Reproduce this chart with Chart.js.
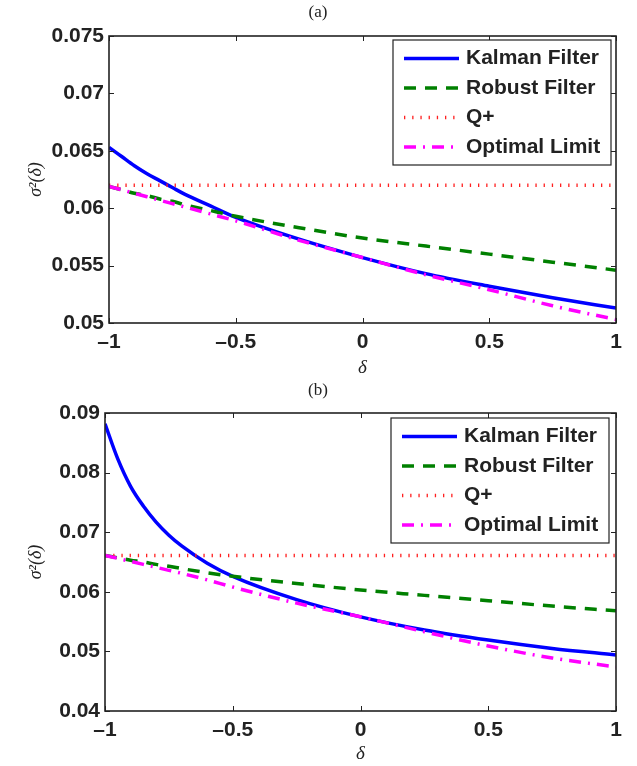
<!DOCTYPE html>
<html>
<head>
<meta charset="utf-8">
<script src="https://cdn.jsdelivr.net/npm/chart.js@4.4.1/dist/chart.umd.min.js"></script>
<style>
  html, body { margin: 0; padding: 0; background: #fff; }
  .panel { position: absolute; left: 0; width: 637px; height: 383px; }
</style>
</head>
<body>
<div class="panel" style="top:0"><canvas id="chartA" width="637" height="383"></canvas></div>
<div class="panel" style="top:383px"><canvas id="chartB" width="637" height="383"></canvas></div>
<script>
// delta grid shared by both panels
const delta = [-1, -0.95, -0.9, -0.85, -0.8, -0.75, -0.7, -0.6, -0.5, -0.25, 0, 0.25, 0.5, 0.75, 1];

// panel (a)
const kalmanA  = [0.0653, 0.0645, 0.0637, 0.0630, 0.0624, 0.0618, 0.0612, 0.0602, 0.0592, 0.0573, 0.0557, 0.0543, 0.0532, 0.0522, 0.0513];
const robustA  = [0.0619, 0.0616, 0.0613, 0.0611, 0.0608, 0.0606, 0.0603, 0.0598, 0.0593, 0.0583, 0.0574, 0.0567, 0.0560, 0.0553, 0.0546];
const qplusA   = [0.0620, 0.0620, 0.0620, 0.0620, 0.0620, 0.0620, 0.0620, 0.0620, 0.0620, 0.0620, 0.0620, 0.0620, 0.0620, 0.0620, 0.0620];
const optimalA = [0.0619, 0.0616, 0.0613, 0.0610, 0.0607, 0.0604, 0.0601, 0.0595, 0.0589, 0.0572, 0.0557, 0.0542, 0.0529, 0.0515, 0.0503];

// panel (b)
const kalmanB  = [0.0882, 0.0823, 0.0777, 0.0744, 0.0717, 0.0695, 0.0677, 0.0648, 0.0626, 0.0587, 0.0558, 0.0536, 0.0519, 0.0505, 0.0494];
const robustB  = [0.0661, 0.0657, 0.0653, 0.0650, 0.0646, 0.0643, 0.0639, 0.0632, 0.0626, 0.0614, 0.0603, 0.0594, 0.0585, 0.0576, 0.0568];
const qplusB   = [0.0661, 0.0661, 0.0661, 0.0661, 0.0661, 0.0661, 0.0661, 0.0661, 0.0661, 0.0661, 0.0661, 0.0661, 0.0661, 0.0661, 0.0661];
const optimalB = [0.0661, 0.0656, 0.0651, 0.0646, 0.0641, 0.0636, 0.0631, 0.0620, 0.0608, 0.0581, 0.0558, 0.0533, 0.0509, 0.0489, 0.0474];

const seriesNames = ['Kalman Filter', 'Robust Filter', 'Q+', 'Optimal Limit'];

const xTicks = [-1, -0.5, 0, 0.5, 1];
const xTickLabels = ['\u20131', '\u20130.5', '0', '0.5', '1'];
const yTicksA = [0.05, 0.055, 0.06, 0.065, 0.07, 0.075];
const yTickLabelsA = ['0.05', '0.055', '0.06', '0.065', '0.07', '0.075'];
const yTicksB = [0.04, 0.05, 0.06, 0.07, 0.08, 0.09];
const yTickLabelsB = ['0.04', '0.05', '0.06', '0.07', '0.08', '0.09'];

const INK = '#222';
const TICK_FONT = { family: '"Liberation Sans", Arial, sans-serif', size: 21, weight: 'bold' };
const SERIF = '"Liberation Serif", "Times New Roman", serif';

// box around the axes with inward ticks on all four sides
const matlabAxes = {
  id: 'matlabAxes',
  afterDatasetsDraw(chart) {
    const { ctx, chartArea: a, scales: { x, y } } = chart;
    ctx.save();
    ctx.strokeStyle = INK;
    ctx.lineWidth = 1;
    ctx.beginPath();
    x.ticks.forEach(t => {
      const px = Math.round(x.getPixelForValue(t.value)) + 0.5;
      ctx.moveTo(px, a.bottom); ctx.lineTo(px, a.bottom - 5);
      ctx.moveTo(px, a.top); ctx.lineTo(px, a.top + 5);
    });
    y.ticks.forEach(t => {
      const py = Math.round(y.getPixelForValue(t.value)) + 0.5;
      ctx.moveTo(a.left, py); ctx.lineTo(a.left + 5, py);
      ctx.moveTo(a.right, py); ctx.lineTo(a.right - 5, py);
    });
    ctx.stroke();
    ctx.lineWidth = 1.6;
    ctx.strokeRect(a.left, a.top, a.right - a.left, a.bottom - a.top);
    ctx.restore();
  }
};

// "(a)" / "(b)" caption above each panel
const panelCaption = {
  id: 'panelCaption',
  afterDraw(chart, args, opts) {
    const { ctx } = chart;
    ctx.save();
    ctx.fillStyle = INK;
    ctx.font = '17px ' + SERIF;
    ctx.textAlign = 'center';
    ctx.textBaseline = 'middle';
    ctx.fillText(opts.text, opts.x, opts.y);
    ctx.restore();
  }
};

// legend box inside the plot, top right
const boxLegend = {
  id: 'boxLegend',
  afterDraw(chart, args, opts) {
    const { ctx } = chart;
    const { left, top, width, height } = opts;
    ctx.save();
    ctx.fillStyle = '#fff';
    ctx.fillRect(left, top, width, height);
    ctx.strokeStyle = INK;
    ctx.lineWidth = 1.2;
    ctx.strokeRect(left, top, width, height);
    chart.data.datasets.forEach((ds, i) => {
      const yy = top + 18.5 + i * 29.5;
      ctx.beginPath();
      ctx.strokeStyle = ds.borderColor;
      ctx.lineWidth = ds.borderWidth;
      ctx.setLineDash(ds.borderDash || []);
      ctx.moveTo(left + 11, yy);
      ctx.lineTo(left + 66, yy);
      ctx.stroke();
      ctx.setLineDash([]);
      ctx.fillStyle = INK;
      ctx.font = 'bold 21px "Liberation Sans", Arial, sans-serif';
      ctx.textAlign = 'left';
      ctx.textBaseline = 'middle';
      ctx.fillText(ds.label, left + 73, yy);
    });
    ctx.restore();
  }
};

function pts(values) {
  return delta.map((d, i) => ({ x: d, y: values[i] }));
}

function makeDatasets(k, r, q, o) {
  return [
    { label: seriesNames[0], data: pts(k), borderColor: '#0000ff', borderWidth: 3.5, order: 4 },
    { label: seriesNames[1], data: pts(r), borderColor: '#008000', borderWidth: 3.5, borderDash: [12, 9], order: 3 },
    { label: seriesNames[2], data: pts(q), borderColor: '#ff2020', borderWidth: 3.5, borderDash: [1.3, 6.9], order: 2 },
    { label: seriesNames[3], data: pts(o), borderColor: '#ff00ff', borderWidth: 3.5, borderDash: [12, 7, 2, 7], order: 1 }
  ];
}

function makeChart(id, datasets, cfg) {
  return new Chart(document.getElementById(id), {
    type: 'line',
    data: { datasets },
    plugins: [matlabAxes, panelCaption, boxLegend],
    options: {
      responsive: false,
      animation: false,
      devicePixelRatio: 1,
      layout: { padding: { top: cfg.top, right: 21, left: 0, bottom: 0 } },
      elements: {
        point: { radius: 0 },
        line: { cubicInterpolationMode: 'monotone', fill: false }
      },
      plugins: {
        legend: { display: false },
        tooltip: { enabled: false },
        panelCaption: cfg.caption,
        boxLegend: cfg.legend
      },
      scales: {
        x: {
          type: 'linear',
          min: -1, max: 1,
          grid: { display: false, drawTicks: false },
          border: { display: false },
          afterBuildTicks: s => { s.ticks = xTicks.map(v => ({ value: v })); },
          afterFit: s => { s.height = cfg.xHeight; },
          ticks: {
            color: INK, font: TICK_FONT, padding: 7, maxRotation: 0,
            callback: (v, i) => xTickLabels[i]
          },
          title: {
            display: true, text: '\u03b4', color: INK,
            font: { family: SERIF, size: 19, style: 'italic' },
            padding: { top: 0, bottom: cfg.deltaPad }
          }
        },
        y: {
          min: cfg.yTicks[0], max: cfg.yTicks[cfg.yTicks.length - 1],
          grid: { display: false, drawTicks: false },
          border: { display: false },
          afterBuildTicks: s => { s.ticks = cfg.yTicks.map(v => ({ value: v })); },
          afterFit: s => { s.width = cfg.yWidth; },
          ticks: {
            color: INK, font: TICK_FONT, padding: 5,
            callback: (v, i) => cfg.yLabels[i]
          },
          title: {
            display: true, text: '\u03c3\u00b2(\u03b4)', color: INK,
            font: { family: SERIF, size: 18, style: 'italic' },
            padding: { top: 25, bottom: 0 }
          }
        }
      }
    }
  });
}

makeChart('chartA', makeDatasets(kalmanA, robustA, qplusA, optimalA), {
  top: 36, xHeight: 60, yWidth: 109, deltaPad: 4,
  yTicks: yTicksA, yLabels: yTickLabelsA,
  caption: { text: '(a)', x: 318, y: 13 },
  legend: { left: 393, top: 40, width: 218, height: 125 }
});

makeChart('chartB', makeDatasets(kalmanB, robustB, qplusB, optimalB), {
  top: 30, xHeight: 55, yWidth: 105, deltaPad: 1,
  yTicks: yTicksB, yLabels: yTickLabelsB,
  caption: { text: '(b)', x: 318, y: 8 },
  legend: { left: 391, top: 35, width: 218, height: 125 }
});
</script>
</body>
</html>
